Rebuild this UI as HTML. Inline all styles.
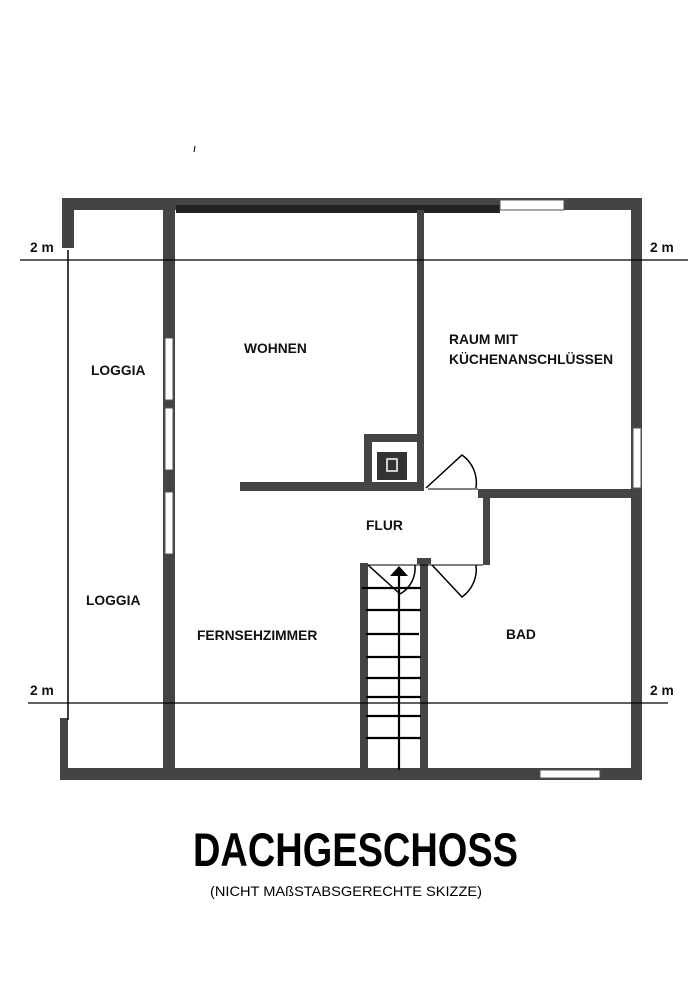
<!DOCTYPE html>
<html><head><meta charset="utf-8"><style>body{margin:0;background:#fff}svg{display:block}</style></head><body>
<svg width="688" height="1000" viewBox="0 0 688 1000" xmlns="http://www.w3.org/2000/svg" font-family="Liberation Sans, sans-serif">
<g fill="#444">
<rect x="62" y="198" width="580" height="12"/>
<rect x="176" y="205" width="324" height="8" fill="#222"/>
<rect x="62" y="198" width="12" height="50"/>
<rect x="60" y="718" width="8" height="62"/>
<rect x="60" y="768" width="582" height="12"/>
<rect x="631" y="198" width="11" height="582"/>
<rect x="163" y="210" width="12" height="560"/>
<rect x="417" y="210" width="7" height="280"/>
<rect x="240" y="482" width="184" height="9"/>
<rect x="364" y="434" width="56" height="8"/>
<rect x="364" y="434" width="8" height="52"/>
<rect x="377" y="452" width="30" height="28" fill="#333"/>
<rect x="478" y="489" width="154" height="9"/>
<rect x="483" y="498" width="7" height="67"/>
<rect x="360" y="563" width="8" height="210"/>
<rect x="420" y="560" width="8" height="213"/>
<rect x="417" y="558" width="14" height="6"/>
</g>
<g fill="#fff" stroke="#555" stroke-width="1">
<rect x="500" y="200" width="64" height="10"/>
<rect x="633" y="428" width="8" height="60"/>
<rect x="540" y="770" width="60" height="8"/>
<rect x="165" y="338" width="8" height="62"/>
<rect x="165" y="408" width="8" height="62"/>
<rect x="165" y="492" width="8" height="62"/>
</g>
<rect x="387" y="459" width="10" height="12" fill="none" stroke="#fff" stroke-width="1.5"/>
<g stroke="#000" fill="none">
<line x1="68" y1="250" x2="68" y2="720" stroke-width="1.5"/>
<line x1="20" y1="260" x2="688" y2="260" stroke-width="1.3"/>
<line x1="28" y1="703" x2="668" y2="703" stroke-width="1.3"/>
<line x1="428" y1="489" x2="478" y2="489" stroke-width="1"/>
<line x1="368" y1="565" x2="483" y2="565" stroke-width="1"/>
<path d="M426 488 L462 455 A34 34 0 0 1 476 488" stroke-width="1.5"/>
<path d="M432 565 L462 597 A34 34 0 0 0 476 565" stroke-width="1.5"/>
<path d="M368 565 L400 594" stroke-width="1.5"/>
<path d="M400 594 A30 30 0 0 0 415 565" stroke-width="1.5"/>
<g stroke-width="2.2">
<line x1="362" y1="588" x2="421" y2="588"/>
<line x1="366" y1="610" x2="421" y2="610"/>
<line x1="366" y1="634" x2="419" y2="634"/>
<line x1="366" y1="657" x2="421" y2="657"/>
<line x1="366" y1="678" x2="421" y2="678"/>
<line x1="366" y1="697" x2="421" y2="697"/>
<line x1="366" y1="716" x2="421" y2="716"/>
<line x1="366" y1="738" x2="421" y2="738"/>
<line x1="399" y1="575" x2="399" y2="770"/>
</g>
</g>
<polygon points="390,576 408,576 399,566" fill="#000"/>
<line x1="195" y1="146" x2="194" y2="152" stroke="#000" stroke-width="1"/>
<g font-size="13.8" font-weight="bold" fill="#111">
<text x="30" y="252">2 m</text>
<text x="650" y="252">2 m</text>
<text x="30" y="695">2 m</text>
<text x="650" y="695">2 m</text>
<text x="244" y="353">WOHNEN</text>
<text x="91" y="375">LOGGIA</text>
<text x="86" y="605">LOGGIA</text>
<text x="449" y="344">RAUM MIT</text>
<text x="449" y="364">KÜCHENANSCHLÜSSEN</text>
<text x="366" y="530">FLUR</text>
<text x="197" y="640">FERNSEHZIMMER</text>
<text x="506" y="639">BAD</text>
</g>
<text x="193" y="866" font-size="47" font-weight="bold" textLength="325" lengthAdjust="spacingAndGlyphs">DACHGESCHOSS</text>
<text x="210" y="896" font-size="14" textLength="272" lengthAdjust="spacingAndGlyphs">(NICHT  MAßSTABSGERECHTE  SKIZZE)</text>
</svg>
</body></html>
